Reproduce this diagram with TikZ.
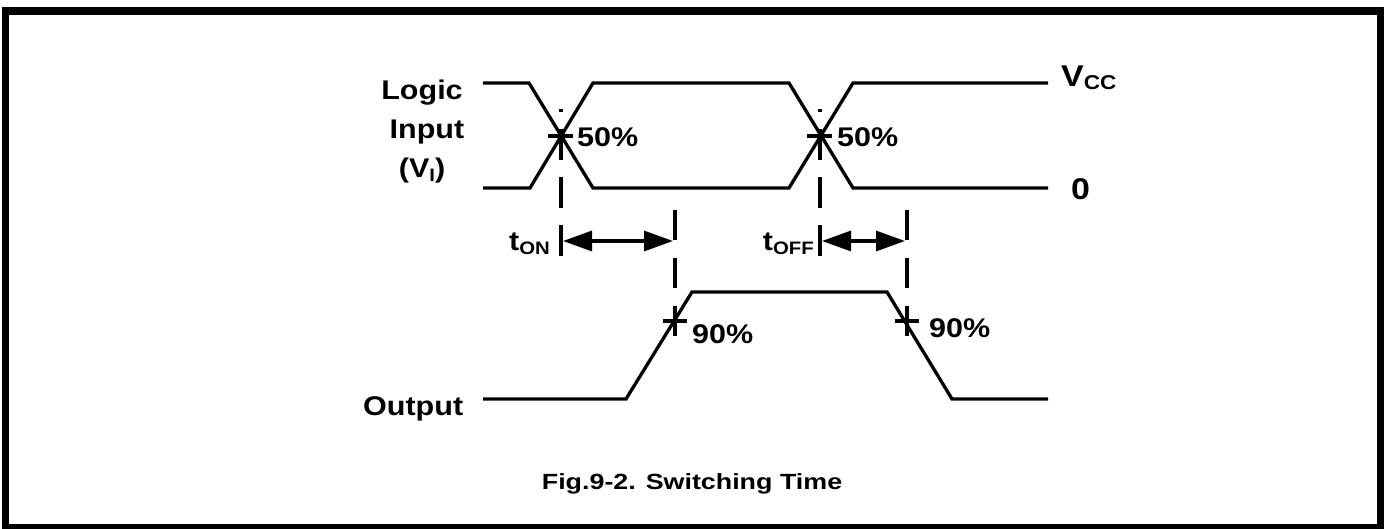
\documentclass[tikz,border=0pt]{standalone}
\usepackage{fontspec}
\setmainfont{Liberation Sans}[FakeStretch=1.13]
\newfontfamily\capfont{Liberation Sans}[FakeStretch=1.22]
\usetikzlibrary{arrows.meta}
\newcommand\sbx[1]{\raisebox{-4pt}{\fontsize{18}{18}\selectfont #1}}
\newcommand\sbxl[1]{\raisebox{-3pt}{\fontsize{20}{20}\selectfont #1}}
\begin{document}
\begin{tikzpicture}[x=1pt,y=-1pt,
  wave/.style={line width=3.3pt, line join=miter},
  dashv/.style={line width=3.3pt, dash pattern=on 31pt off 17pt},
  tickmark/.style={line width=3.3pt},
  dim/.style={line width=3.3pt, {Triangle[length=29pt,width=20pt]}-{Triangle[length=29pt,width=20pt]}},
  lbl/.style={font=\bfseries\fontsize{27}{31}\selectfont, inner sep=0pt},
  biglbl/.style={font=\bfseries\fontsize{30}{34}\selectfont, inner sep=0pt},
  captext/.style={font=\capfont\bfseries\fontsize{22}{26}\selectfont, inner sep=0pt}]
\useasboundingbox (0,0) rectangle (1385,529);
\draw[line width=7.7pt] (5.5,10.8) rectangle (1380.5,528.3);
% input waveforms
\draw[wave] (483,83) -- (529,83) -- (593,188) -- (789,188) -- (853,83) -- (1048,83);
\draw[wave] (483,188) -- (530,188) -- (593,83) -- (789,83) -- (853,188) -- (1048,188);
% output waveform
\draw[wave] (483,399) -- (626,399) -- (692,292) -- (887,292) -- (952,399) -- (1048,399);
% dashed markers
\coordinate (d1t) at (561,109); \coordinate (d1b) at (561,256);
\coordinate (d2t) at (675,210); \coordinate (d2b) at (675,337);
\coordinate (d3t) at (820,109); \coordinate (d3b) at (820,256);
\coordinate (d4t) at (907,210); \coordinate (d4b) at (907,337);
\draw[dashv] (d1b) -- (d1t);
\draw[dashv, dash pattern=on 30pt off 18pt] (d2t) -- (d2b);
\draw[dashv] (d3b) -- (d3t);
\draw[dashv, dash pattern=on 30pt off 18pt] (d4t) -- (d4b);
% ticks
\draw[tickmark] (548,136) -- (573,136);
\draw[tickmark] (807,136) -- (832,136);
\draw[tickmark] (663,321) -- (687,321);
\draw[tickmark] (895,321) -- (919,321);
% dimension arrows
\coordinate (a1) at (563,241); \coordinate (a2) at (673,241);
\coordinate (a3) at (822,241); \coordinate (a4) at (905,241);
\draw[dim] (a1) -- (a2);
\draw[dim] (a3) -- (a4);
% labels
\node[lbl, anchor=base] (logic) at (422,100) {Logic};
\node[lbl, anchor=base] (input) at (427,139) {Input};
\node[lbl, anchor=base] (vi) at (422,178) {(V\sbx{I})};
\node[lbl, anchor=base west] (p50a) at (577,147) {50\%};
\node[lbl, anchor=base west] (p50b) at (837,147) {50\%};
\node[lbl, anchor=base west] (p90a) at (692,344) {90\%};
\node[lbl, anchor=base west] (p90b) at (929,338) {90\%};
\node[biglbl, anchor=base west] (vcc) at (1061,87) {V\sbxl{CC}};
\node[biglbl, anchor=base west] (zero) at (1071,200) {0};
\node[lbl, anchor=base west] (out) at (363,415) {Output};
\node[lbl, anchor=base east] (ton) at (550,251) {t\sbx{ON}};
\node[lbl, anchor=base east] (toff) at (814,251) {t\sbx{OFF}};
\node[captext, anchor=base] (title) at (692,489) {Fig.9-2. Switching Time};
\end{tikzpicture}
\end{document}
